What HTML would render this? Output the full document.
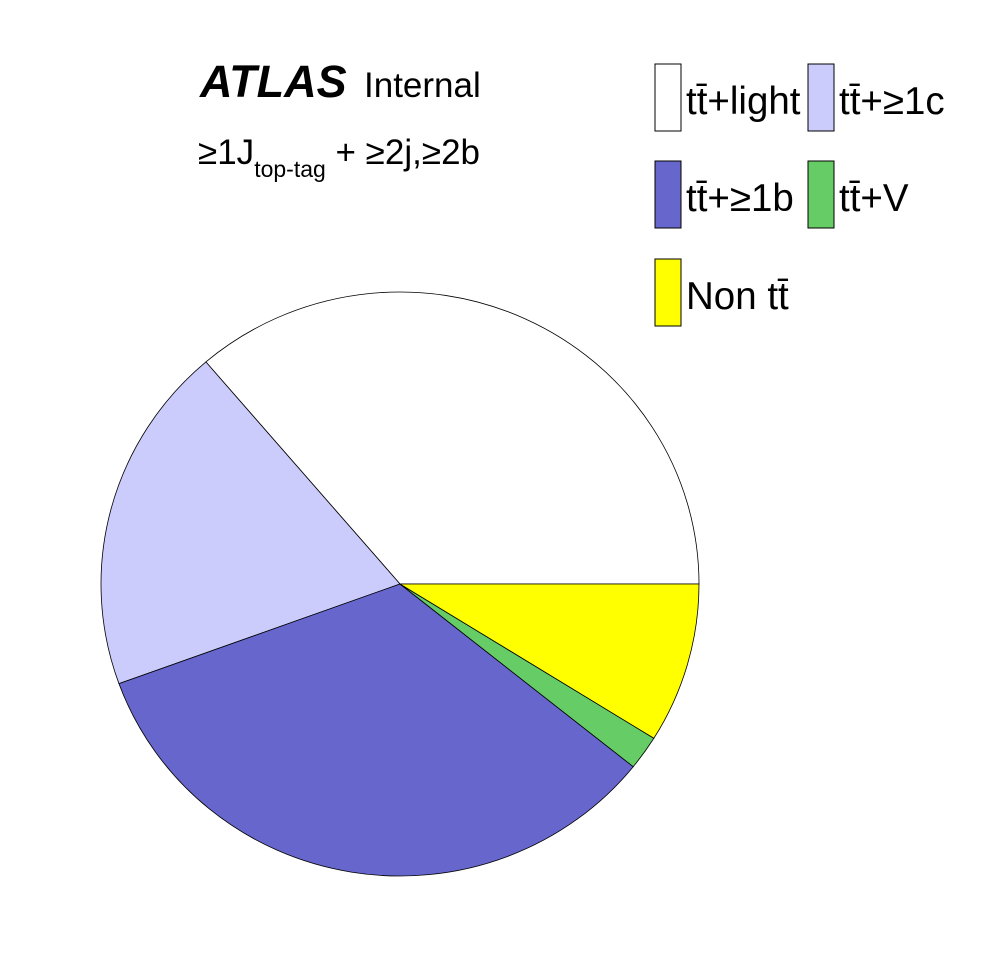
<!DOCTYPE html>
<html><head><meta charset="utf-8"><style>
html,body{margin:0;padding:0;background:#fff;}
svg{display:block;font-family:"Liberation Sans",sans-serif;}
</style></head><body>
<svg id="chart" width="998" height="974" viewBox="0 0 998 974">
<rect width="998" height="974" fill="#fff"/>
<text x="200" y="97" font-size="45" font-weight="bold" font-style="italic">ATLAS</text>
<text x="364" y="97" font-size="35">Internal</text>
<text x="198" y="164" font-size="35">≥1J<tspan font-size="23" dy="13">top-tag</tspan><tspan dy="-13"> + ≥2j,≥2b</tspan></text>
<g id="slices"></g>
<g id="legend"></g>
</svg>
<script>
const categories = ["tt̄+light","tt̄+≥1c","tt̄+≥1b","tt̄+V","Non tt̄"];
const values = [0.3625, 0.193, 0.337, 0.019, 0.0886];
const colors = ["#ffffff","#ccccfc","#6666cc","#66cc66","#ffff00"];
const cx=400, cy=584, rx=299, ry=292;
const NS="http://www.w3.org/2000/svg";
const total=values.reduce((a,b)=>a+b,0);
let a0=0;
const g=document.getElementById('slices');
values.forEach((v,i)=>{
  const a1=a0+v/total*2*Math.PI;
  const x0=cx+rx*Math.cos(a0), y0=cy-ry*Math.sin(a0);
  const x1=cx+rx*Math.cos(a1), y1=cy-ry*Math.sin(a1);
  const large=(a1-a0)>Math.PI?1:0;
  const p=document.createElementNS(NS,'path');
  p.setAttribute('d',`M${cx},${cy} L${x0},${y0} A${rx},${ry} 0 ${large} 0 ${x1},${y1} Z`);
  p.setAttribute('fill',colors[i]);
  p.setAttribute('stroke','#000');
  p.setAttribute('stroke-width','0.8');
  
  
  g.appendChild(p);
  a0=a1;
});
const pos=[[655,64],[808,64],[655,161],[808,161],[655,259]];
const lg=document.getElementById('legend');
categories.forEach((c,i)=>{
  const r=document.createElementNS(NS,'rect');
  r.setAttribute('x',pos[i][0]);r.setAttribute('y',pos[i][1]);
  r.setAttribute('width',26);r.setAttribute('height',67);
  r.setAttribute('fill',colors[i]);r.setAttribute('stroke','#000');
  
  
  lg.appendChild(r);
  const t=document.createElementNS(NS,'text');
  t.setAttribute('x',pos[i][0]+31);t.setAttribute('y',pos[i][1]+50);
  t.setAttribute('font-size','38.5');
  t.textContent=c;
  
  
  lg.appendChild(t);
});
</script>
</body></html>
